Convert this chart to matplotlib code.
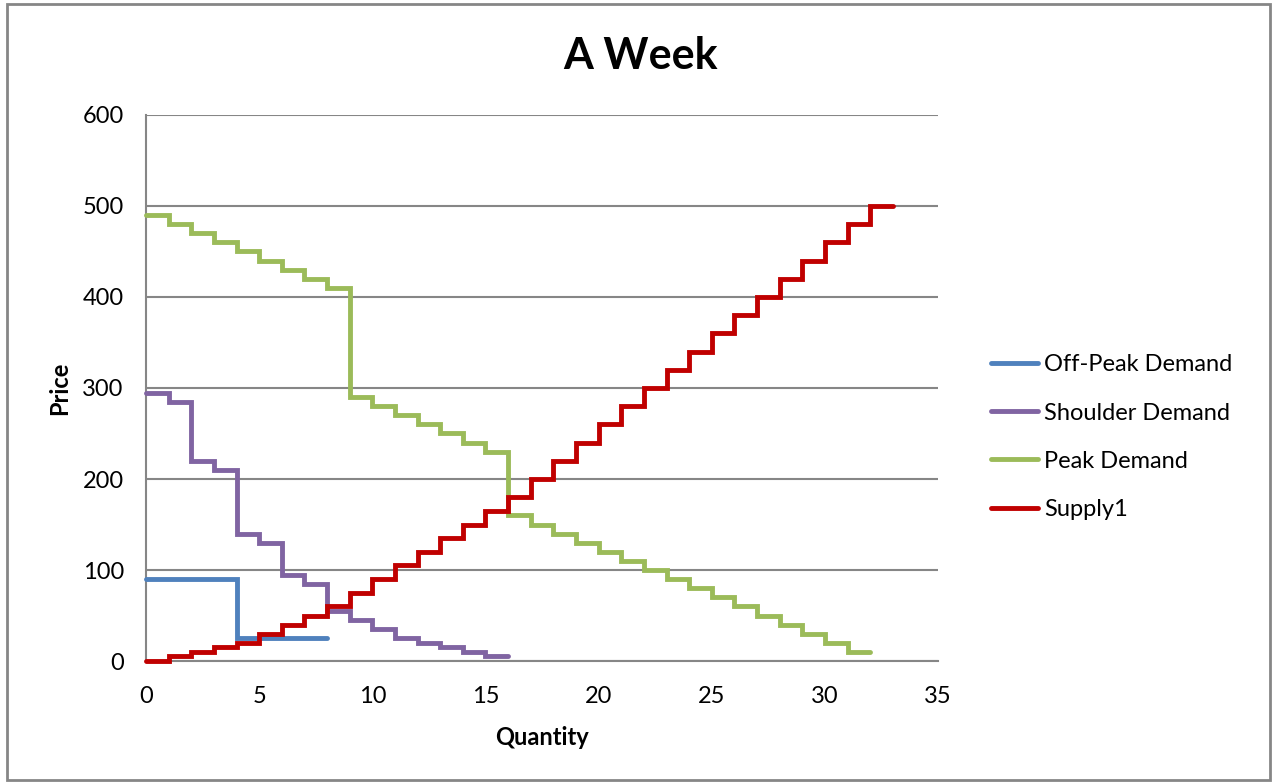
import matplotlib.pyplot as plt
from matplotlib.patches import Rectangle

# step data: price holds from q[i] to q[i+1]
offpeak_q = [0, 4, 8]
offpeak_p = [90, 25]

shoulder_q = list(range(0, 17))
shoulder_p = [295, 285, 220, 210, 140, 130, 95, 85, 55, 45, 35, 25, 20, 15, 10, 5]

peak_q = list(range(0, 33))
peak_p = [490, 480, 470, 460, 450, 440, 430, 420, 410,
          290, 280, 270, 260, 250, 240, 230,
          160, 150, 140, 130, 120, 110, 100, 90, 80, 70, 60, 50, 40, 30, 20, 10]

supply_q = list(range(0, 34))
supply_p = [0, 5, 10, 15, 20, 30, 40, 50, 60, 75, 90, 105, 120, 135, 150, 165,
            180, 200, 220, 240, 260, 280, 300, 320, 340, 360, 380, 400, 420,
            440, 460, 480, 500]

series = [
    ("Off-Peak Demand", offpeak_q, offpeak_p, "#4F81BD"),
    ("Shoulder Demand", shoulder_q, shoulder_p, "#8064A2"),
    ("Peak Demand", peak_q, peak_p, "#9BBB59"),
    ("Supply1", supply_q, supply_p, "#C00000"),
]

plt.rcParams['font.family'] = ['Lato', 'DejaVu Sans']

fig = plt.figure(figsize=(12.73, 7.82), dpi=100)
ax = fig.add_axes([0.1147, 0.1547, 0.6222, 0.6983])

for name, q, p, color in series:
    # repeat the last price so the final step has a right edge
    ax.step(q, p + [p[-1]], where="post", color=color, lw=3.5,
            label=name, solid_joinstyle="miter", solid_capstyle="round",
            clip_on=False, zorder=3)

ax.set_xlim(0, 35)
ax.set_ylim(0, 600)
ax.set_xticks(range(0, 36, 5))
ax.set_yticks(range(0, 601, 100))
ax.tick_params(length=0, labelsize=17)
ax.tick_params(axis="x", pad=18)
ax.tick_params(axis="y", pad=16)
ax.grid(axis="y", color="#868686", lw=1.5)
ax.set_axisbelow(True)
for s in ["top", "right"]:
    ax.spines[s].set_visible(False)
for s in ["left", "bottom"]:
    ax.spines[s].set_color("#868686")
    ax.spines[s].set_linewidth(1.5)

ax.set_xlabel("Quantity", fontsize=17, fontweight="bold", labelpad=14)
ax.set_ylabel("Price", fontsize=17, fontweight="bold", labelpad=8)
fig.text(0.503, 0.928, "A Week", ha="center", va="center",
         fontsize=31, fontweight="bold")

leg = ax.legend(loc="center left", bbox_to_anchor=(1.055, 0.41), frameon=False,
                fontsize=17, handlelength=2.0, handletextpad=0.25,
                labelspacing=1.15, borderaxespad=0)
for line in leg.get_lines():
    line.set_linewidth(3.5)

fig.patches.append(Rectangle((0.0055, 0.002), 0.9925, 0.993,
                             transform=fig.transFigure, fill=False,
                             edgecolor="#868686", lw=2))

fig.savefig("out.png", dpi=100)
